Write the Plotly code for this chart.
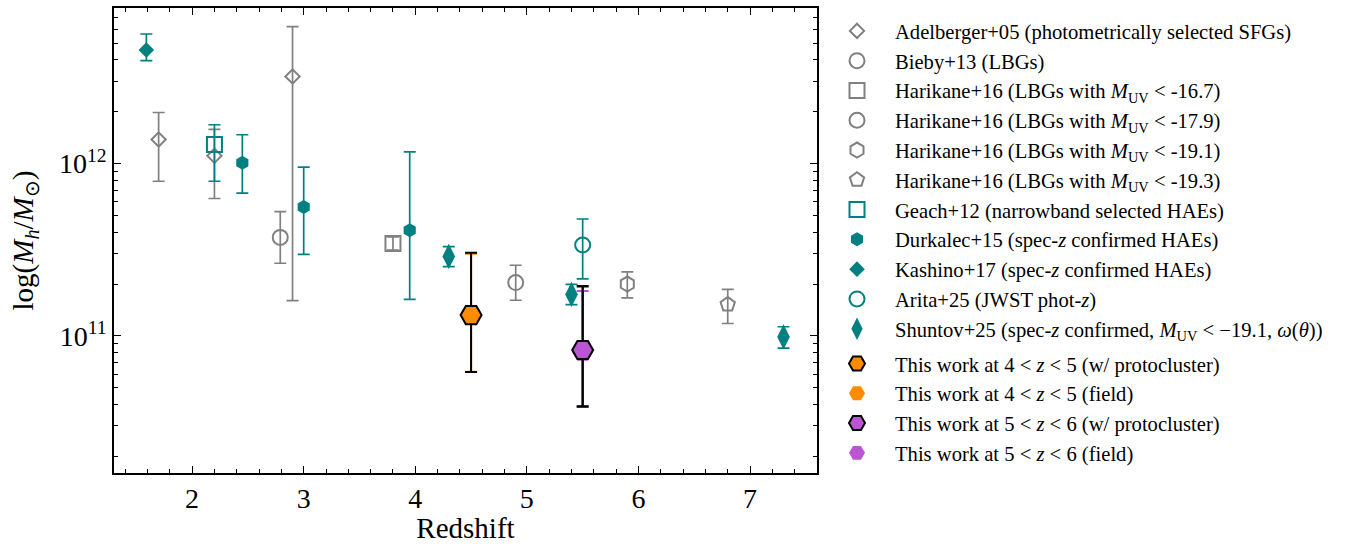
import math
import plotly.graph_objects as go

# ---- halo mass measurements: redshift, value, upper bound, lower bound ----
adel_z = [1.7, 2.2, 2.9]
adel_m = [1.38e12, 1.11e12, 3.2e12]
adel_hi = [1.98e12, 1.58e12, 6.24e12]
adel_lo = [7.9e11, 6.27e11, 1.6e11]

bieby_z = [2.79]
bieby_m = [3.73e11]
bieby_hi = [5.26e11]
bieby_lo = [2.64e11]

hari167_z = [3.8]
hari167_m = [3.44e11]
hari167_hi = [3.75e11]
hari167_lo = [3.15e11]

hari179_z = [4.9]
hari179_m = [2.04e11]
hari179_hi = [2.57e11]
hari179_lo = [1.61e11]

hari191_z = [5.9]
hari191_m = [2.0e11]
hari191_hi = [2.35e11]
hari191_lo = [1.66e11]

hari193_z = [6.8]
hari193_m = [1.52e11]
hari193_hi = [1.86e11]
hari193_lo = [1.18e11]

geach_z = [2.2]
geach_m = [1.29e12]
geach_hi = [1.68e12]
geach_lo = [7.9e11]

durk_z = [2.45, 3.0, 3.95]
durk_m = [1.01e12, 5.6e11, 4.1e11]
durk_hi = [1.47e12, 9.55e11, 1.17e12]
durk_lo = [6.74e11, 2.97e11, 1.63e11]

kash_z = [1.59]
kash_m = [4.56e12]
kash_hi = [5.65e12]
kash_lo = [3.96e12]

arita_z = [5.5]
arita_m = [3.37e11]
arita_hi = [4.77e11]
arita_lo = [2.14e11]

shun_z = [4.3, 5.4, 7.3]
shun_m = [2.89e11, 1.74e11, 9.86e10]
shun_hi = [3.3e11, 1.99e11, 1.13e11]
shun_lo = [2.52e11, 1.52e11, 8.5e10]

tw45_pc_z = [4.5]
tw45_pc_m = [1.32e11]
tw45_pc_hi = [3.04e11]
tw45_pc_lo = [6.17e10]

tw45_f_z = [4.5]
tw45_f_m = [1.32e11]
tw45_f_hi = [3.0e11]
tw45_f_lo = [6.2e10]

tw56_pc_z = [5.5]
tw56_pc_m = [8.28e10]
tw56_pc_hi = [1.94e11]
tw56_pc_lo = [3.89e10]

tw56_f_z = [5.5]
tw56_f_m = [8.09e10]
tw56_f_hi = [1.82e11]
tw56_f_lo = [3.89e10]

x_ticks = [2, 3, 4, 5, 6, 7]
y_ticks = [1e11, 1e12]
y_ticktext = ["10<sup>11</sup>", "10<sup>12</sup>"]

GRAY = "#808080"
TEAL = "#008080"
ORANGE = "#FF8C00"
ORCHID = "#BA55D3"

fig = go.Figure()


def add(name, z, m, hi, lo, symbol, size, color, rank, group="lit",
        edge=None, edge_w=2.0, err_color=None, err_w=1.7, cap=6):
    fig.add_trace(go.Scatter(
        x=z, y=m, mode="markers", name=name,
        legendrank=rank, legendgroup=group,
        marker=dict(symbol=symbol, size=size, color=color,
                    line=dict(color=edge if edge else color, width=edge_w)),
        error_y=dict(type="data", symmetric=False,
                     array=[h - v for h, v in zip(hi, m)],
                     arrayminus=[v - l for v, l in zip(m, lo)],
                     color=err_color if err_color else color,
                     thickness=err_w, width=cap),
    ))


M_UV = "<i>M</i><sub>UV</sub>"
add("Adelberger+05 (photometrically selected SFGs)", adel_z, adel_m, adel_hi, adel_lo,
    "diamond-open", 11, GRAY, 1)
add("Bieby+13 (LBGs)", bieby_z, bieby_m, bieby_hi, bieby_lo, "circle-open", 15, GRAY, 2)
add(f"Harikane+16 (LBGs with {M_UV} &lt; -16.7)", hari167_z, hari167_m, hari167_hi, hari167_lo,
    "square-open", 15, GRAY, 3)
add(f"Harikane+16 (LBGs with {M_UV} &lt; -17.9)", hari179_z, hari179_m, hari179_hi, hari179_lo,
    "circle-open", 15, GRAY, 4)
add(f"Harikane+16 (LBGs with {M_UV} &lt; -19.1)", hari191_z, hari191_m, hari191_hi, hari191_lo,
    "hexagon-open", 15, GRAY, 5)
add(f"Harikane+16 (LBGs with {M_UV} &lt; -19.3)", hari193_z, hari193_m, hari193_hi, hari193_lo,
    "pentagon-open", 15, GRAY, 6)
add("Geach+12 (narrowband selected HAEs)", geach_z, geach_m, geach_hi, geach_lo,
    "square-open", 15, TEAL, 7)
add("Durkalec+15 (spec-<i>z</i> confirmed HAEs)", durk_z, durk_m, durk_hi, durk_lo,
    "hexagon", 14, TEAL, 8, edge_w=0)
add("Kashino+17 (spec-<i>z</i> confirmed HAEs)", kash_z, kash_m, kash_hi, kash_lo,
    "diamond", 12, TEAL, 9, edge_w=0)
add("Arita+25 (JWST phot-<i>z</i>)", arita_z, arita_m, arita_hi, arita_lo,
    "circle-open", 15, TEAL, 10)
add(f"Shuntov+25 (spec-<i>z</i> confirmed, {M_UV} &lt; −19.1, <i>ω</i>(<i>θ</i>))",
    shun_z, shun_m, shun_hi, shun_lo, "diamond-tall", 18, TEAL, 11, edge_w=0)

# field samples sit underneath the protocluster-inclusive points
add("This work at 4 &lt; <i>z</i> &lt; 5 (field)", tw45_f_z, tw45_f_m, tw45_f_hi, tw45_f_lo,
    "hexagon2", 21, ORANGE, 13, group="tw", edge_w=0, err_w=2.0)
add("This work at 5 &lt; <i>z</i> &lt; 6 (field)", tw56_f_z, tw56_f_m, tw56_f_hi, tw56_f_lo,
    "hexagon2", 21, ORCHID, 15, group="tw", edge_w=0, err_w=2.0)
add("This work at 4 &lt; <i>z</i> &lt; 5 (w/ protocluster)", tw45_pc_z, tw45_pc_m, tw45_pc_hi, tw45_pc_lo,
    "hexagon2", 21, ORANGE, 12, group="tw", edge="black", edge_w=2.0,
    err_color="black", err_w=2.0)
add("This work at 5 &lt; <i>z</i> &lt; 6 (w/ protocluster)", tw56_pc_z, tw56_pc_m, tw56_pc_hi, tw56_pc_lo,
    "hexagon2", 21, ORCHID, 14, group="tw", edge="black", edge_w=2.0,
    err_color="black", err_w=2.4)

y_lo, y_hi = 1.6e10, 8e12
y_minor = [k * 10 ** e for e in (10, 11, 12) for k in range(2, 10)
           if y_lo <= k * 10 ** e <= y_hi]

FONT = "Liberation Serif, Times New Roman, serif"
axis_common = dict(
    showline=True, linecolor="black", linewidth=1.5, mirror="ticks",
    ticks="inside", ticklen=7, tickwidth=1.3, tickcolor="black",
    showgrid=False, zeroline=False,
    tickfont=dict(family=FONT, size=28, color="black"),
)

fig.update_layout(
    width=1361, height=544,
    margin=dict(l=114, r=544, t=8, b=71, autoexpand=False),
    plot_bgcolor="white", paper_bgcolor="white",
    font=dict(family=FONT, color="black"),
    xaxis=dict(
        range=[1.3, 7.6], tickmode="array", tickvals=x_ticks,
        minor=dict(dtick=0.2, tick0=0, ticks="inside", ticklen=4, tickwidth=1, tickcolor="black"),
        title=dict(text="Redshift", font=dict(family=FONT, size=29), standoff=8),
        automargin=False,
        **axis_common,
    ),
    yaxis=dict(
        type="log", range=[math.log10(y_lo), math.log10(y_hi)],
        tickmode="array", tickvals=y_ticks, ticktext=y_ticktext,
        minor=dict(tickmode="array", tickvals=y_minor, ticks="inside", ticklen=4,
                   tickwidth=1, tickcolor="black"),
        title=dict(text="log(<i>M</i><sub><i>h</i></sub>/<i>M</i><sub>⊙</sub>)",
                   font=dict(family=FONT, size=29), standoff=17),
        automargin=False,
        **axis_common,
    ),
    showlegend=True,
    legend=dict(
        xref="container", yref="container",
        x=819 / 1361, y=1 - 11 / 544, xanchor="left", yanchor="top",
        font=dict(family=FONT, size=20.6, color="black"),
        itemwidth=66, tracegroupgap=5, traceorder="grouped",
        maxheight=540,
        bgcolor="rgba(0,0,0,0)", borderwidth=0,
    ),
)

fig.write_html("out.html")
